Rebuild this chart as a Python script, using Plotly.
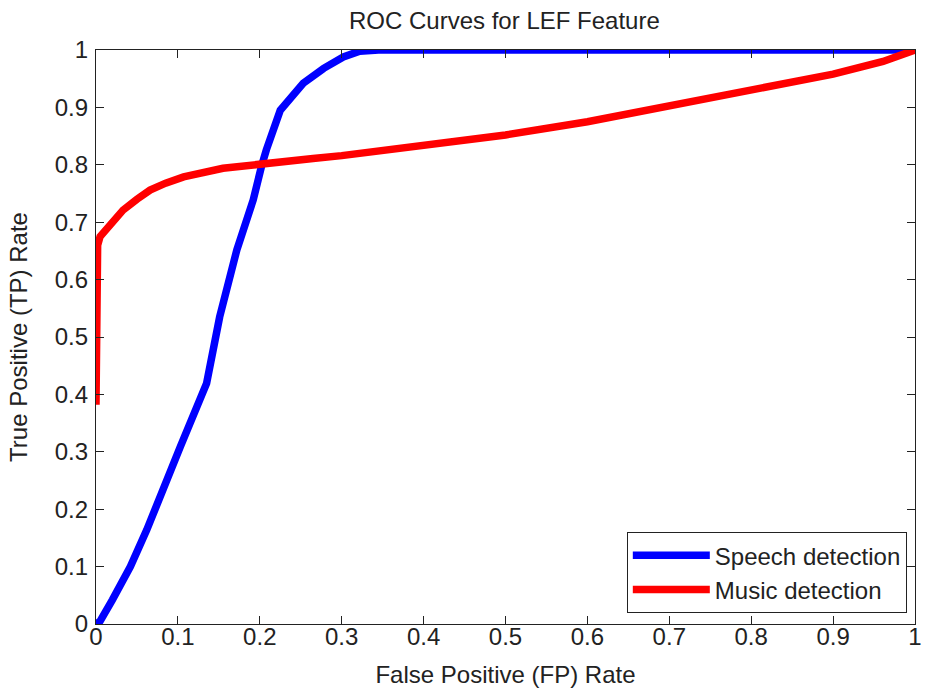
import plotly.graph_objects as go

# Speech detection ROC (blue)
speech_fpr = [0.0, 0.005, 0.02, 0.042, 0.062, 0.082, 0.103, 0.135, 0.151, 0.172, 0.192, 0.202, 0.208,
              0.225, 0.253, 0.278, 0.302, 0.322, 0.345, 0.5, 0.75, 1.0]
speech_tpr = [0.0, 0.005, 0.042, 0.1, 0.164, 0.239, 0.309, 0.419, 0.535, 0.652, 0.739, 0.797, 0.826,
              0.895, 0.942, 0.968, 0.988, 0.998, 1.0, 1.0, 1.0, 1.0]

# Music detection ROC (red)
music_fpr = [0.0, 0.0, 0.002, 0.005, 0.02, 0.033, 0.05, 0.066, 0.085, 0.107, 0.155, 0.204, 0.265, 0.3,
             0.4, 0.5, 0.6, 0.7, 0.737, 0.8, 0.86, 0.9, 0.961, 1.0]
music_tpr = [0.382, 0.628, 0.66, 0.675, 0.7, 0.721, 0.74, 0.756, 0.768, 0.779, 0.794, 0.803, 0.811, 0.816,
             0.834, 0.852, 0.875, 0.903, 0.913, 0.93, 0.948, 0.958, 0.98, 1.0]

x_ticks = [0, 0.1, 0.2, 0.3, 0.4, 0.5, 0.6, 0.7, 0.8, 0.9, 1]
x_tick_labels = ["0", "0.1", "0.2", "0.3", "0.4", "0.5", "0.6", "0.7", "0.8", "0.9", "1"]
y_ticks = x_ticks
y_tick_labels = x_tick_labels

FONT = "Liberation Sans, Arial, sans-serif"
fig = go.Figure()
fig.add_trace(go.Scatter(x=speech_fpr, y=speech_tpr, mode="lines", name="Speech detection",
                         line=dict(color="#0000ff", width=7.5)))
fig.add_trace(go.Scatter(x=music_fpr, y=music_tpr, mode="lines", name="Music detection",
                         line=dict(color="#ff0000", width=7.5)))

axis_common = dict(
    range=[0, 1], showgrid=False, zeroline=False, showline=True, linecolor="#222222", linewidth=1.3,
    mirror="ticks", ticks="inside", ticklen=8, tickwidth=1.3, tickcolor="#222222", automargin=False,
    tickfont=dict(family=FONT, size=24, color="#222222"),
    title_font=dict(family=FONT, size=24, color="#222222"),
)
fig.update_xaxes(**axis_common, tickvals=x_ticks, ticktext=x_tick_labels,
                 title_text="False Positive (FP) Rate", title_standoff=17, ticklabelstandoff=-9)
fig.update_yaxes(**axis_common, tickvals=y_ticks, ticktext=y_tick_labels,
                 title_text="True Positive (TP) Rate", title_standoff=20, ticklabelstandoff=2)

fig.update_layout(
    width=925, height=697,
    margin=dict(l=96, r=10, t=50, b=73),
    paper_bgcolor="white", plot_bgcolor="white",
    title=dict(text="ROC Curves for LEF Feature", x=0.5453, xanchor="center", y=0.97, yanchor="middle",
               font=dict(family=FONT, size=24, color="#222222")),
    legend=dict(x=0.99, xanchor="right", y=0.019, yanchor="bottom", bgcolor="white",
                bordercolor="#222222", borderwidth=1, font=dict(family=FONT, size=24, color="#222222"),
                itemwidth=77),
    showlegend=True,
)

fig.write_html("out.html")
